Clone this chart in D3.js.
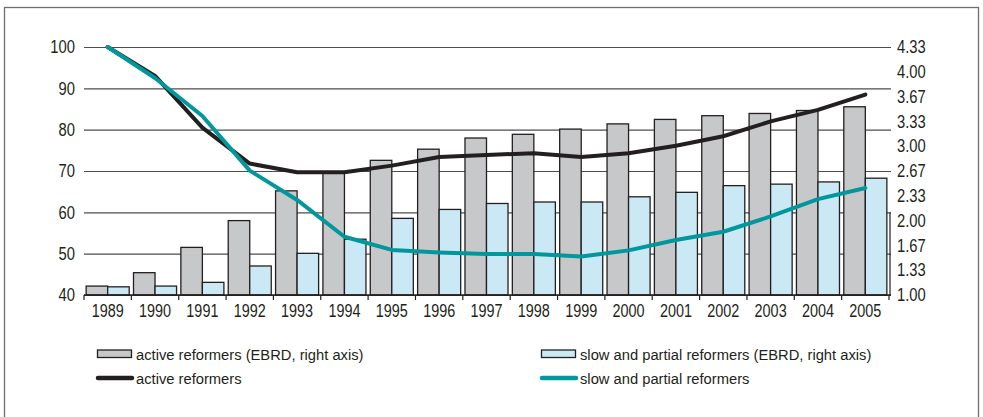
<!DOCTYPE html>
<html>
<head>
<meta charset="utf-8">
<script src="https://cdn.jsdelivr.net/npm/d3@7"></script>
<style>
  body { margin: 0; background: #fff; }
  .num { font-family: "Liberation Sans", Arial, sans-serif; font-size: 18px; fill: #231f20; }
  .leg { font-family: "Liberation Sans", Arial, sans-serif; font-size: 15.5px; fill: #231f20; }
</style>
</head>
<body>
<div id="chart"></div>
<script>
// data
const years = ["1989","1990","1991","1992","1993","1994","1995","1996","1997","1998","1999","2000","2001","2002","2003","2004","2005"];
// EBRD index, right axis (bars)
const ebrdActive = [1.12, 1.30, 1.64, 2.00, 2.40, 2.65, 2.81, 2.96, 3.11, 3.16, 3.23, 3.30, 3.36, 3.41, 3.44, 3.48, 3.53];
const ebrdSlow   = [1.11, 1.12, 1.17, 1.39, 1.56, 1.75, 2.03, 2.15, 2.23, 2.25, 2.25, 2.32, 2.38, 2.47, 2.49, 2.52, 2.57];
// left axis (lines)
const lineActive = [100, 93.0, 80.5, 71.8, 69.7, 69.7, 71.3, 73.4, 73.9, 74.3, 73.4, 74.3, 76.1, 78.4, 82.0, 84.8, 88.5];
const lineSlow   = [100, 92.5, 83.3, 70.1, 63.0, 54.1, 50.9, 50.3, 49.9, 49.9, 49.3, 50.8, 53.3, 55.3, 59.0, 63.2, 65.9];
const leftTicks = [40, 50, 60, 70, 80, 90, 100];
const rightTicks = [1, 4/3, 5/3, 2, 7/3, 8/3, 3, 10/3, 11/3, 4, 13/3];

const W = 983, H = 417;
const svg = d3.select("#chart").append("svg").attr("width", W).attr("height", H);

// squeeze text horizontally, the original uses a condensed face
function condense(sel, k) {
    sel.each(function () {
        const len = this.getComputedTextLength();
        d3.select(this).attr("textLength", len * k).attr("lengthAdjust", "spacingAndGlyphs");
    });
}

// outer frame
svg.append("rect").attr("x", 4.5).attr("y", 7.5).attr("width", 974).attr("height", 420)
    .attr("fill", "none").attr("stroke", "#6d6e70").attr("stroke-width", 1.3);

const x0 = 84, x1 = 889;
const yTop = 47, yBot = 295;

const x = d3.scaleBand().domain(years).range([x0, x1]).paddingInner(0).paddingOuter(0);
const xSub = d3.scaleBand().domain(["a", "s"]).range([0, x.bandwidth()]).paddingInner(0).paddingOuter(0.1);
const yL = d3.scaleLinear().domain([40, 100]).range([yBot, yTop]);
const yR = d3.scaleLinear().domain([1, 13/3]).range([yBot, yTop]);

// gridlines (left axis)
const gridAxis = d3.axisLeft(yL).tickValues(leftTicks).tickSize(-(x1 - x0 + 2)).tickPadding(9).tickFormat(d3.format("d"));
const gL = svg.append("g").attr("transform", `translate(${x0},0)`).call(gridAxis);
gL.select(".domain").remove();
gL.attr("font-size", null).attr("font-family", null);
gL.selectAll(".tick line").attr("stroke", "#4d4d4f").attr("stroke-width", 1.2);
gL.selectAll(".tick text").attr("class", "num").attr("fill", null).call(condense, 0.82);

// bars
const bars = svg.append("g");
bars.selectAll("rect.ba").data(years).join("rect").attr("class", "ba")
    .attr("x", d => x(d) + xSub("a")).attr("width", xSub.bandwidth())
    .attr("y", (d, i) => yR(ebrdActive[i])).attr("height", (d, i) => yBot - yR(ebrdActive[i]))
    .attr("fill", "#c7c8ca").attr("stroke", "#231f20").attr("stroke-width", 1.3);
bars.selectAll("rect.bs").data(years).join("rect").attr("class", "bs")
    .attr("x", d => x(d) + xSub("s")).attr("width", xSub.bandwidth())
    .attr("y", (d, i) => yR(ebrdSlow[i])).attr("height", (d, i) => yBot - yR(ebrdSlow[i]))
    .attr("fill", "#cbe9f4").attr("stroke", "#231f20").attr("stroke-width", 1.3);

// baseline and category ticks
svg.append("line").attr("x1", x0).attr("x2", x1 + 2).attr("y1", yBot).attr("y2", yBot)
    .attr("stroke", "#231f20").attr("stroke-width", 1.3);
const bounds = years.map(d => x(d)).concat([x1]);
svg.append("g").selectAll("line").data(bounds).join("line")
    .attr("x1", d => d).attr("x2", d => d).attr("y1", yBot).attr("y2", yBot + 5)
    .attr("stroke", "#231f20").attr("stroke-width", 1.2);

// x labels
const xAxis = d3.axisBottom(x).tickSize(0).tickPadding(9);
const gX = svg.append("g").attr("transform", `translate(0,${yBot})`).call(xAxis);
gX.select(".domain").remove();
gX.attr("font-size", null).attr("font-family", null);
gX.selectAll(".tick text").attr("class", "num").attr("fill", null).call(condense, 0.8);

// right axis
svg.append("line").attr("x1", x1 + 1).attr("x2", x1 + 1).attr("y1", yL(60)).attr("y2", yBot)
    .attr("stroke", "#231f20").attr("stroke-width", 1.2);
const rAxis = d3.axisRight(yR).tickValues(rightTicks).tickSize(0).tickPadding(8).tickFormat(d3.format(".2f"));
const gR = svg.append("g").attr("transform", `translate(${x1},0)`).call(rAxis);
gR.select(".domain").remove();
gR.attr("font-size", null).attr("font-family", null);
gR.selectAll(".tick text").attr("class", "num").attr("fill", null).call(condense, 0.82);

// lines
const line = d3.line().x((d, i) => x(years[i]) + x.bandwidth() / 2).y(d => yL(d));
svg.append("path").datum(lineActive).attr("d", line)
    .attr("fill", "none").attr("stroke", "#231f20").attr("stroke-width", 4).attr("stroke-linejoin", "round").attr("stroke-linecap", "round");
svg.append("path").datum(lineSlow).attr("d", line)
    .attr("fill", "none").attr("stroke", "#00979d").attr("stroke-width", 4).attr("stroke-linejoin", "round").attr("stroke-linecap", "round");

// legend
const legend = [
    { label: "active reformers (EBRD, right axis)", type: "bar", fill: "#c7c8ca", x: 97, y: 350 },
    { label: "slow and partial reformers (EBRD, right axis)", type: "bar", fill: "#cbe9f4", x: 541, y: 350 },
    { label: "active reformers", type: "line", color: "#231f20", x: 97, y: 378 },
    { label: "slow and partial reformers", type: "line", color: "#00979d", x: 541, y: 378 }
];
const lg = svg.append("g").selectAll("g").data(legend).join("g")
    .attr("transform", d => `translate(${d.x},${d.y})`);
lg.filter(d => d.type === "bar").append("rect")
    .attr("x", 0.5).attr("y", 0).attr("width", 34).attr("height", 7.5)
    .attr("fill", d => d.fill).attr("stroke", "#231f20").attr("stroke-width", 1.3);
lg.filter(d => d.type === "line").append("line")
    .attr("x1", 1).attr("x2", 35).attr("y1", 0).attr("y2", 0)
    .attr("stroke", d => d.color).attr("stroke-width", 4.5).attr("stroke-linecap", "round");
lg.append("text").attr("class", "leg")
    .attr("x", 39).attr("y", d => d.type === "bar" ? 9.5 : 6)
    .text(d => d.label)
    .call(condense, 0.95);
</script>
</body>
</html>
